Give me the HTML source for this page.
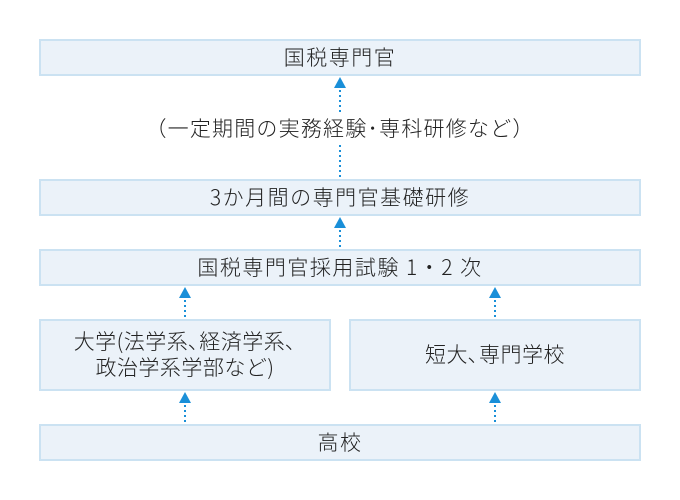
<!DOCTYPE html><html><head><meta charset="utf-8"><style>
body{margin:0;width:680px;height:500px;background:#fff;position:relative;font-family:"Noto Sans CJK JP","Liberation Sans",sans-serif;font-weight:300;color:#222;}
.b{position:absolute;background:#ebf2f9;border:2px solid #cbe2f2;box-sizing:border-box;display:flex;align-items:center;justify-content:center;font-size:21px;letter-spacing:1.5px;text-align:center;line-height:26px;padding-bottom:2px}
.t{position:absolute;font-size:21px;letter-spacing:1.2px}
svg{position:absolute;left:0;top:0}
</style></head><body>
<div class="b" style="left:39px;top:39px;width:602px;height:37px">国税専門官</div>
<div class="t" style="left:0;width:680px;text-align:center;top:113px">（一定期間の実務経験･専科研修など）</div>
<div class="b" style="left:39px;top:179px;width:602px;height:37px">3か月間の専門官基礎研修</div>
<div class="b" style="left:39px;top:249px;width:602px;height:37px">国税専門官採用試験 1・2 次</div>
<div class="b" style="left:39px;top:319px;width:292px;height:72px;letter-spacing:0.5px">大学(法学系､経済学系､<br>政治学系学部など)</div>
<div class="b" style="left:349px;top:319px;width:292px;height:72px;letter-spacing:0.5px">短大､専門学校</div>
<div class="b" style="left:39px;top:424px;width:602px;height:37px">高校</div>
<svg width="680" height="500">
<g fill="#1a8fd8">
<polygon points="340,77 334,88 346,88"/>
<polygon points="340,217 334,228 346,228"/>
<polygon points="185,287 179,298 191,298"/>
<polygon points="495,287 489,298 501,298"/>
<polygon points="185,392 179,403 191,403"/>
<polygon points="495,392 489,403 501,403"/>
</g>
<g stroke="#1a8fd8" stroke-width="2" stroke-dasharray="2,3">
<line x1="340" y1="90" x2="340" y2="114"/>
<line x1="340" y1="145" x2="340" y2="179"/>
<line x1="340" y1="230" x2="340" y2="249"/>
<line x1="185" y1="300" x2="185" y2="319"/>
<line x1="495" y1="300" x2="495" y2="319"/>
<line x1="185" y1="405" x2="185" y2="424"/>
<line x1="495" y1="405" x2="495" y2="424"/>
</g>
</svg>
</body></html>
